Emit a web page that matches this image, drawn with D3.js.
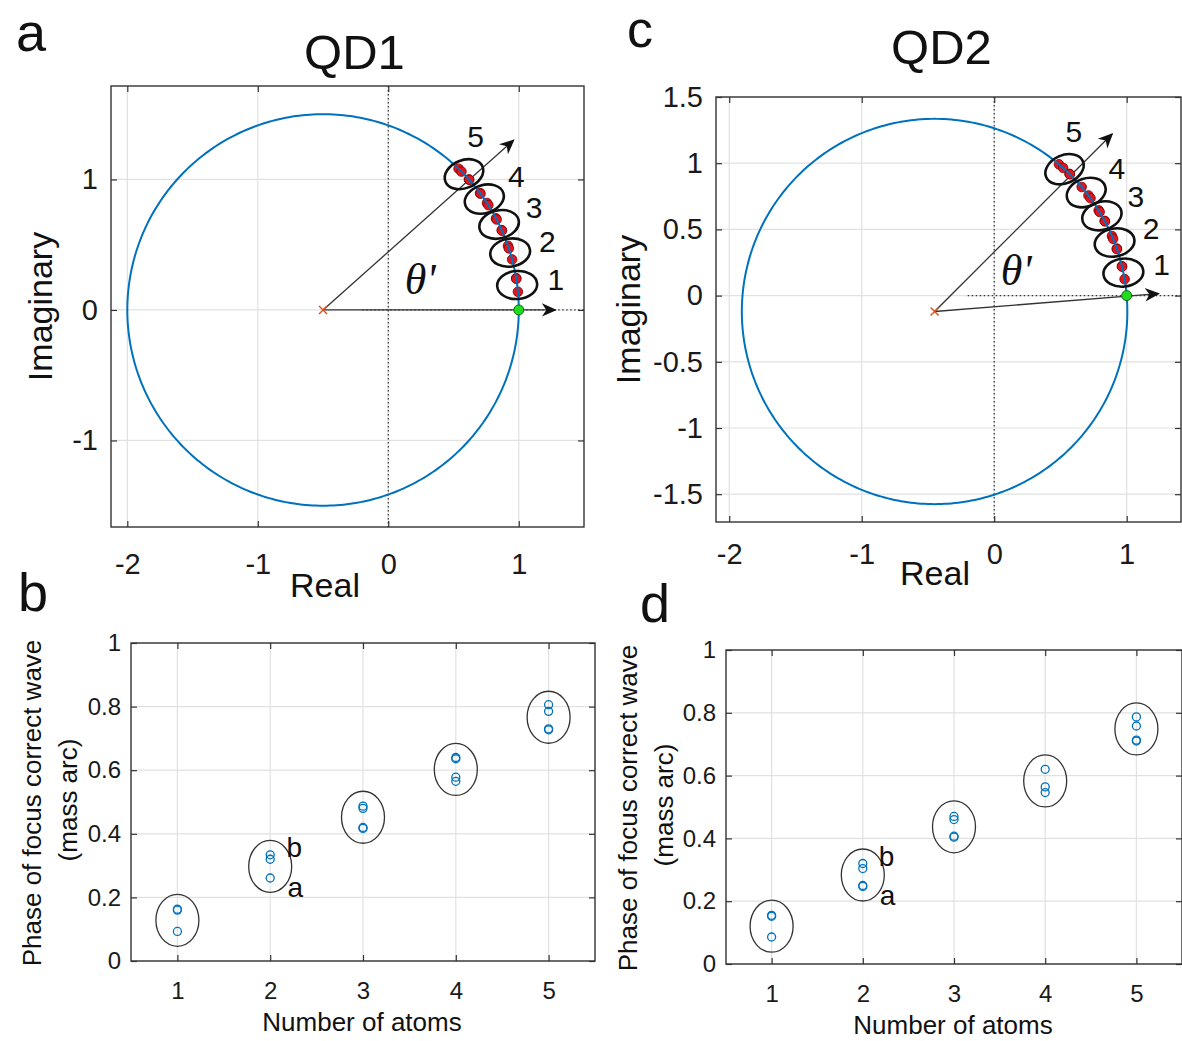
<!DOCTYPE html>
<html>
<head>
<meta charset="utf-8">
<script src="https://cdn.jsdelivr.net/npm/d3@7"></script>
<style>
  body { margin: 0; background: #fff; }
  svg { display: block; }
</style>
</head>
<body>
<script>
const FONT = '"Liberation Sans", Arial, Helvetica, sans-serif';
const SERIF = '"Liberation Serif", "DejaVu Serif", serif';
const BLUE = "#0072BD";

// ---- data ----
const realTicks = [-2, -1, 0, 1];
const qd1ImagTicks = [-1, 0, 1];
const qd2ImagTicks = [-1.5, -1, -0.5, 0, 0.5, 1, 1.5];
const atomCounts = [1, 2, 3, 4, 5];
const phaseTicks = [0, 0.2, 0.4, 0.6, 0.8, 1];

// phase of focus corrected wave (rad), one list per number of atoms
const qd1Phase = [
  [0.163, 0.160, 0.093],
  [0.334, 0.320, 0.261],
  [0.487, 0.480, 0.420, 0.417],
  [0.640, 0.636, 0.578, 0.565],
  [0.806, 0.785, 0.730, 0.727]
];
const qd2Phase = [
  [0.155, 0.152, 0.086],
  [0.320, 0.304, 0.250, 0.247],
  [0.470, 0.460, 0.407, 0.404],
  [0.620, 0.564, 0.546],
  [0.787, 0.758, 0.713, 0.710]
];

// fitted circles in the complex plane
const qd1Centre = [-0.5, 0];
const qd1Radius = 1.5;
const qd2Centre = [-0.45, -0.12];
const qd2Radius = 1.455;
const zeroPoint = [1, 0];

// arrow tips and theta' label spot (complex plane units)
const qd1RefTip = [1.28, 0];
const qd1ThetaTip = [0.96, 1.30];
const qd1ThetaLabel = [0.245, 0.23];
const qd2RefTip = [1.24, 0.015];
const qd2ThetaTip = [0.89, 1.22];
const qd2ThetaLabel = [0.166, 0.19];

const svg = d3.select("body").append("svg")
  .attr("width", 1182)
  .attr("height", 1041);

svg.append("defs").append("marker")
  .attr("id", "head")
  .attr("viewBox", "0 0 10 10")
  .attr("refX", 9).attr("refY", 5)
  .attr("markerWidth", 15).attr("markerHeight", 15)
  .attr("markerUnits", "userSpaceOnUse")
  .attr("orient", "auto")
  .append("path")
  .attr("d", "M0,0.5 L10,5 L0,9.5 L3,5 Z")
  .attr("fill", "#111");

function frame(g, x, y, xt, yt, o) {
  const [x0, x1] = x.range(), [y0, y1] = y.range();
  g.append("g").selectAll("line").data(xt).join("line")
    .attr("x1", d => x(d)).attr("x2", d => x(d))
    .attr("y1", y0).attr("y2", y1)
    .attr("stroke", "#e1e1e1").attr("stroke-width", 1.2);
  g.append("g").selectAll("line").data(yt).join("line")
    .attr("y1", d => y(d)).attr("y2", d => y(d))
    .attr("x1", x0).attr("x2", x1)
    .attr("stroke", "#e1e1e1").attr("stroke-width", 1.2);

  const fmt = d => String(d);
  const axes = [
    [d3.axisBottom(x).tickValues(xt).tickPadding(o.xPad).tickFormat(fmt), `translate(0,${y0})`],
    [d3.axisLeft(y).tickValues(yt).tickPadding(o.yPad).tickFormat(fmt), `translate(${x0},0)`],
    [d3.axisTop(x).tickValues(xt).tickFormat(""), `translate(0,${y1})`],
    [d3.axisRight(y).tickValues(yt).tickFormat(""), `translate(${x1},0)`]
  ];
  axes.forEach(([ax, tr]) => {
    const a = g.append("g").attr("transform", tr)
      .call(ax.tickSizeInner(-6).tickSizeOuter(0));
    a.select(".domain").remove();
    a.selectAll("line").attr("stroke", "#333").attr("stroke-width", 1.2);
    a.selectAll("text")
      .attr("font-family", FONT)
      .attr("font-size", o.fs)
      .attr("fill", "#1a1a1a");
  });

  g.append("rect")
    .attr("x", x0).attr("y", y1)
    .attr("width", x1 - x0).attr("height", y0 - y1)
    .attr("fill", "none").attr("stroke", "#333").attr("stroke-width", 1.4);
}

function label(txt, x, y, size, opts = {}) {
  const t = svg.append("text")
    .attr("x", x).attr("y", y)
    .attr("text-anchor", opts.anchor || "middle")
    .attr("dominant-baseline", "central")
    .attr("font-family", opts.family || FONT)
    .attr("font-size", size)
    .attr("fill", "#111")
    .text(txt);
  if (opts.rotate) t.attr("transform", `rotate(${opts.rotate},${x},${y})`);
  if (opts.italic) t.attr("font-style", "italic");
  return t;
}

function complexPanel(p) {
  const x = d3.scaleLinear().domain(p.xDomain).range([p.left, p.right]);
  const y = d3.scaleLinear().domain(p.yDomain).range([p.bottom, p.top]);
  const g = svg.append("g");
  frame(g, x, y, realTicks, p.yTicks, { fs: 29, xPad: p.xPad, yPad: 13 });

  // dotted zero lines
  g.append("line")
    .attr("x1", x(0)).attr("x2", x(0)).attr("y1", p.top).attr("y2", p.bottom)
    .attr("stroke", "#333").attr("stroke-width", 1.2).attr("stroke-dasharray", "1.5,2.5");
  g.append("line")
    .attr("x1", x(-0.2)).attr("x2", p.right).attr("y1", y(0)).attr("y2", y(0))
    .attr("stroke", "#333").attr("stroke-width", 1.2).attr("stroke-dasharray", "1.5,2.5");

  const c = p.centre, r = p.radius;
  const phi0 = Math.atan2(zeroPoint[1] - c[1], zeroPoint[0] - c[0]);
  const onCircle = a => [c[0] + r * Math.cos(a + phi0), c[1] + r * Math.sin(a + phi0)];

  // arrows from the centre
  g.selectAll(".arrow").data([p.refTip, p.thetaTip]).join("line")
    .attr("x1", x(c[0])).attr("y1", y(c[1]))
    .attr("x2", d => x(d[0])).attr("y2", d => y(d[1]))
    .attr("stroke", "#333").attr("stroke-width", 1.3)
    .attr("marker-end", "url(#head)");

  // measured points
  const pts = p.phase.flat();
  g.selectAll(".dot").data(pts).join("circle")
    .attr("cx", d => x(onCircle(d)[0]))
    .attr("cy", d => y(onCircle(d)[1]))
    .attr("r", 4.8)
    .attr("fill", "#e3141c").attr("stroke", "#7a0000").attr("stroke-width", 0.8);

  // fitted circle
  const ring = d3.range(0, 361).map(a => [c[0] + r * Math.cos(a * Math.PI / 180), c[1] + r * Math.sin(a * Math.PI / 180)]);
  g.append("path")
    .attr("d", d3.line().x(d => x(d[0])).y(d => y(d[1]))(ring))
    .attr("fill", "none").attr("stroke", BLUE).attr("stroke-width", 2);

  // group rings and numbers
  const groups = p.phase.map((vals, i) => {
    const e = d3.extent(vals);
    return { n: atomCounts[i], mid: (e[0] + e[1]) / 2 };
  });
  g.selectAll(".grp").data(groups).join("ellipse")
    .attr("cx", d => x(onCircle(d.mid)[0]))
    .attr("cy", d => y(onCircle(d.mid)[1]))
    .attr("rx", 20).attr("ry", 14)
    .attr("transform", d => {
      const q = onCircle(d.mid);
      return `rotate(${-(d.mid + phi0) * 90 / Math.PI},${x(q[0])},${y(q[1])})`;
    })
    .attr("fill", "none").attr("stroke", "#111").attr("stroke-width", 2.6);
  groups.forEach((d, i) => {
    const q = onCircle(d.mid);
    const a = d.mid + phi0 + (i === groups.length - 1 ? 0.5 : 0);
    label(String(d.n), x(q[0]) + 39 * Math.cos(a), y(q[1]) - 39 * Math.sin(a), 30);
  });

  // zero point and centre
  g.append("circle")
    .attr("cx", x(zeroPoint[0])).attr("cy", y(zeroPoint[1])).attr("r", 5)
    .attr("fill", "#1fdc1f").attr("stroke", "#0a5a0a").attr("stroke-width", 0.9);
  const cx = x(c[0]), cy = y(c[1]);
  g.append("path")
    .attr("d", `M${cx - 4},${cy - 4}L${cx + 4},${cy + 4}M${cx - 4},${cy + 4}L${cx + 4},${cy - 4}`)
    .attr("stroke", "#D95319").attr("stroke-width", 1.4);

  label("θ'", x(p.thetaLabel[0]), y(p.thetaLabel[1]), 44, { family: SERIF, italic: true });

  label(p.title, (p.left + p.right) / 2 + p.titleDx, p.titleY, 49);
  label("Real", p.realX, p.realY, 34);
  label("Imaginary", p.imagX, (p.top + p.bottom) / 2, 34, { rotate: -90 });
}

function phasePanel(p) {
  const x = d3.scaleLinear().domain([0.5, 5.5]).range([p.left, p.right]);
  const y = d3.scaleLinear().domain([0, 1]).range([p.bottom, p.top]);
  const g = svg.append("g");
  frame(g, x, y, atomCounts, phaseTicks, { fs: 24, xPad: 21, yPad: 10 });

  const groups = p.phase.map((vals, i) => {
    const e = d3.extent(vals);
    return { n: atomCounts[i], mid: (e[0] + e[1]) / 2, lo: e[0], hi: e[1] };
  });
  g.selectAll(".grp").data(groups).join("ellipse")
    .attr("cx", d => x(d.n)).attr("cy", d => y(d.mid))
    .attr("rx", 21.5).attr("ry", 26)
    .attr("fill", "none").attr("stroke", "#333").attr("stroke-width", 1.3);

  const pts = p.phase.flatMap((vals, i) => vals.map(v => ({ n: atomCounts[i], v })));
  g.selectAll(".pt").data(pts).join("circle")
    .attr("cx", d => x(d.n)).attr("cy", d => y(d.v)).attr("r", 4)
    .attr("fill", "none").attr("stroke", BLUE).attr("stroke-width", 1.3);

  const g2 = groups[1];
  label("b", x(2.26), y(g2.hi + 0.022), 28);
  label("a", x(2.27), y(g2.lo - 0.03), 28);

  label("Number of atoms", (p.left + p.right) / 2 - 1, p.bottom + 61, 26);
  const ym = (p.top + p.bottom) / 2;
  label("Phase of focus correct wave", p.labX, ym + 1, 26, { rotate: -90 });
  label("(mass arc)", p.labX + 36, ym - 2, 26, { rotate: -90 });
}

complexPanel({
  xDomain: [-2.125, 1.5], yDomain: [-1.663, 1.716],
  left: 111, right: 584, top: 86, bottom: 527,
  yTicks: qd1ImagTicks, xPad: 26,
  centre: qd1Centre, radius: qd1Radius, phase: qd1Phase,
  refTip: qd1RefTip, thetaTip: qd1ThetaTip, thetaLabel: qd1ThetaLabel,
  title: "QD1", titleDx: 7, titleY: 52,
  realX: 325, realY: 585, imagX: 40
});
complexPanel({
  xDomain: [-2.1, 1.41], yDomain: [-1.71, 1.5],
  left: 716, right: 1181, top: 97, bottom: 522,
  yTicks: qd2ImagTicks, xPad: 21,
  centre: qd2Centre, radius: qd2Radius, phase: qd2Phase,
  refTip: qd2RefTip, thetaTip: qd2ThetaTip, thetaLabel: qd2ThetaLabel,
  title: "QD2", titleDx: -7, titleY: 47,
  realX: 935, realY: 573, imagX: 628
});

phasePanel({ left: 131, right: 595, top: 643, bottom: 961, phase: qd1Phase, labX: 32 });
phasePanel({ left: 726, right: 1182, top: 650, bottom: 964, phase: qd2Phase, labX: 628 });

// panel letters
label("a", 31, 32, 54);
label("b", 33, 592, 54);
label("c", 640, 29, 52);
label("d", 655, 603, 54);
</script>
</body>
</html>
